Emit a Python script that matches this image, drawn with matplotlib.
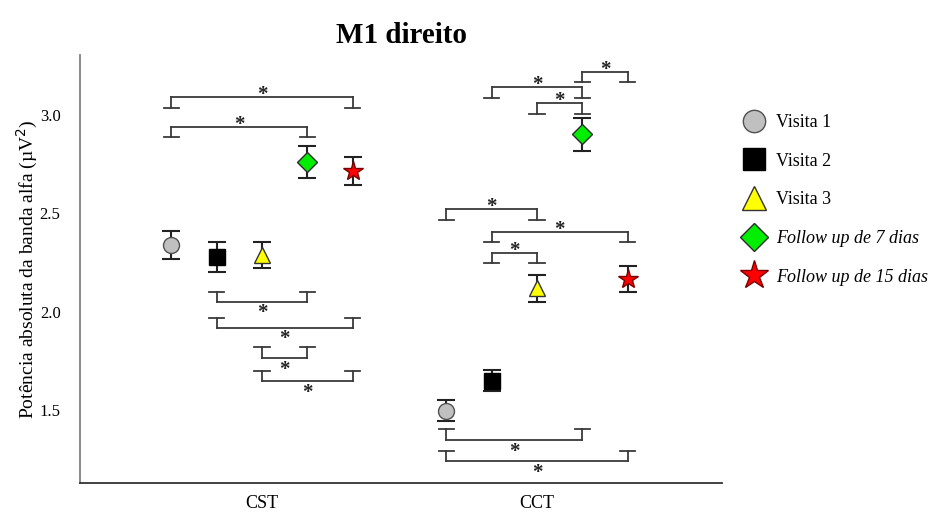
import matplotlib.pyplot as plt
from matplotlib.lines import Line2D

plt.rcParams['font.family'] = ['Liberation Serif', 'DejaVu Serif']

groups = ['CST', 'CCT']
conditions = ['Visita 1', 'Visita 2', 'Visita 3',
              'Follow up de 7 dias', 'Follow up de 15 dias']

# mean alpha power and error per condition (CST, CCT)
means = {
    'Visita 1': [2.337, 1.496],
    'Visita 2': [2.278, 1.649],
    'Visita 3': [2.288, 2.119],
    'Follow up de 7 dias': [2.763, 2.901],
    'Follow up de 15 dias': [2.713, 2.164],
}
errors = {
    'Visita 1': [0.071, 0.053],
    'Visita 2': [0.074, 0.053],
    'Visita 3': [0.066, 0.069],
    'Follow up de 7 dias': [0.081, 0.084],
    'Follow up de 15 dias': [0.071, 0.066],
}

# significance brackets: group, condition a, condition b, line level, leg end level
brackets = [
    (0, 0, 4, 3.091, 3.036),
    (0, 0, 3, 2.939, 2.887),
    (0, 1, 3, 2.051, 2.102),
    (0, 1, 4, 1.919, 1.969),
    (0, 2, 3, 1.765, 1.822),
    (0, 2, 4, 1.648, 1.699),
    (1, 3, 4, 3.219, 3.169),
    (1, 1, 3, 3.143, 3.086),
    (1, 2, 3, 3.062, 3.005),
    (1, 0, 2, 2.520, 2.464),
    (1, 1, 4, 2.404, 2.352),
    (1, 1, 2, 2.296, 2.250),
    (1, 0, 3, 1.348, 1.403),
    (1, 0, 4, 1.240, 1.291),
]

styles = {
    'Visita 1': dict(marker='o', mfc='#c0c0c0', mec='#505050', ms=11.5),
    'Visita 2': dict(marker='s', mfc='black', mec='black', ms=11),
    'Visita 3': dict(marker='^', mfc='#ffff00', mec='#333333', ms=12),
    'Follow up de 7 dias': dict(marker='D', mfc='#00ee00', mec='#2a2a2a', ms=10),
    'Follow up de 15 dias': dict(marker='*', mfc='#ff0000', mec='#7a0000', ms=15),
}

offsets = [-0.33, -0.165, 0.0, 0.165, 0.33]
centers = [1, 2]

fig = plt.figure(figsize=(9.35, 5.18), dpi=100)
ax = fig.add_axes([0.0856, 0.0676, 0.6866, 0.8262])

for k, cond in enumerate(conditions):
    xs = [c + offsets[k] for c in centers]
    ax.errorbar(xs, means[cond], yerr=errors[cond], fmt='none',
                ecolor='#222222', elinewidth=1.5, capsize=6.5, capthick=1.5,
                zorder=2)
    ax.plot(xs, means[cond], linestyle='none', mew=1.0, zorder=3,
            **styles[cond])

cap_half = 0.028
for g, a, b, y_line, y_end in brackets:
    x0 = centers[g] + offsets[a]
    x1 = centers[g] + offsets[b]
    ax.plot([x0, x1], [y_line, y_line], color='#3a3a3a', lw=1.3)
    for x in (x0, x1):
        ax.plot([x, x], [y_line, y_end], color='#3a3a3a', lw=1.3)
        ax.plot([x - cap_half, x + cap_half], [y_end, y_end],
                color='#3a3a3a', lw=1.3)
    # asterisk sits above brackets opening downwards, below the others
    dy = 1.5 if y_end < y_line else -8.5
    ax.annotate('*', ((x0 + x1) / 2, y_line), xytext=(0, dy),
                textcoords='offset points', ha='center', va='center',
                fontsize=15, fontweight='bold', color='#222222')

ax.set_xlim(0.338, 2.673)
ax.set_ylim(1.129, 3.305)
ax.set_xticks(centers)
ax.set_xticklabels(groups, fontsize=13)
ax.set_yticks([1.5, 2.0, 2.5, 3.0])
ax.set_yticklabels(['1.5', '2.0', '2.5', '3.0'], fontsize=12)
ax.tick_params(axis='both', length=0)
ax.tick_params(axis='y', pad=14)
ax.tick_params(axis='x', pad=9)
for side in ('top', 'right'):
    ax.spines[side].set_visible(False)
ax.spines['left'].set_color('#808080')
ax.spines['bottom'].set_color('#333333')
ax.spines['left'].set_linewidth(1.3)
ax.spines['bottom'].set_linewidth(1.3)

ax.set_ylabel('Potência absoluta da banda alfa (µV$^2$)', fontsize=14,
              labelpad=0)
ax.set_title('M1 direito', fontsize=21, fontweight='bold', pad=9)

handles = []
for cond in conditions:
    st = dict(styles[cond])
    st['ms'] = st['ms'] * 1.4
    handles.append(Line2D([], [], linestyle='none', mew=1.0, **st))
leg = ax.legend(handles, conditions, loc='upper left',
                bbox_to_anchor=(1.005, 0.90), frameon=False, fontsize=13,
                labelspacing=1.2, handletextpad=0.5, handlelength=1.4)
for txt in leg.get_texts()[3:]:
    txt.set_fontstyle('italic')

fig.savefig('out.png', dpi=100)
